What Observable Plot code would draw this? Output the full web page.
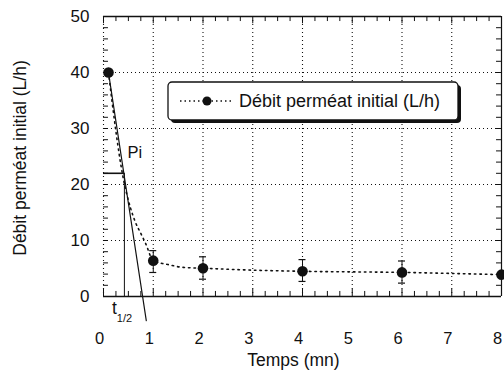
<!DOCTYPE html>
<html>
<head>
<meta charset="utf-8">
<script src="https://cdn.jsdelivr.net/npm/d3@7"></script>
<script src="https://cdn.jsdelivr.net/npm/@observablehq/plot@0.6"></script>
<style>
  html, body { margin: 0; padding: 0; background: #fff; }
  #chart { width: 504px; height: 370px; }
  svg { font-family: "Liberation Sans", Arial, sans-serif; }
</style>
</head>
<body>
<div id="chart"></div>
<script>
// Measured points with error bars
const temps = [0.1, 1, 2, 4, 6, 8];
const debit = [40, 6.4, 5.05, 4.5, 4.3, 3.9];
const errLow = [40, 4.2, 3.0, 2.6, 2.3, 3.9];
const errHigh = [40, 8.1, 7.0, 6.5, 6.25, 3.9];

// Dotted fitted curve
const curveX = [0.1, 0.4, 0.54, 0.64, 0.77, 0.85, 1, 1.3, 1.6, 2, 3, 4, 6, 8];
const curveY = [40, 21, 15.9, 13.3, 10.9, 9.4, 6.4, 5.7, 5.2, 5.05, 4.7, 4.5, 4.3, 3.9];

// Tangent line and Pi / t1/2 construction
const tangentX = [0.1, 0.86];
const tangentY = [40, -4.3];
const piLevel = 22;
const tHalf = 0.42;

const xTicks = [0, 1, 2, 3, 4, 5, 6, 7, 8];
const yTicks = [0, 10, 20, 30, 40, 50];
const xLabel = "Temps (mn)";
const yLabel = "Débit perméat initial (L/h)";
const legendLabel = "Débit perméat initial (L/h)";

const pts = temps.map((t, i) => ({t, v: debit[i], lo: errLow[i], hi: errHigh[i]}));
const curve = curveX.map((x, i) => ({x, y: curveY[i]}));
const tangent = tangentX.map((x, i) => ({x, y: tangentY[i]}));
const xMinor = d3.range(0, 8.001, 0.25);
const yMinor = d3.range(0, 50.001, 2);
const errPts = pts.filter(d => d.hi - d.lo > 0.01);

const ink = "#111";
const dots = "1,3";

const plot = Plot.plot({
  width: 504,
  height: 370,
  marginLeft: 103,
  marginRight: 3,
  marginTop: 16,
  marginBottom: 74,
  style: {fontFamily: "Liberation Sans, Arial, sans-serif", background: "white", overflow: "visible"},
  x: {type: "linear", domain: [0, 8], axis: null},
  y: {type: "linear", domain: [0, 50], axis: null},
  marks: [
    // grid
    Plot.ruleX([1, 2, 3, 4, 5, 6, 7], {stroke: ink, strokeDasharray: dots, strokeWidth: 1.1}),
    Plot.ruleY([10, 20, 30, 40], {stroke: ink, strokeDasharray: dots, strokeWidth: 1.1}),
    Plot.ruleX([0], {stroke: ink, strokeDasharray: dots, strokeWidth: 1.1}),
    // frame lines
    Plot.ruleY([0], {stroke: ink, strokeWidth: 1.4}),
    Plot.ruleY([50], {stroke: ink, strokeWidth: 1.4}),
    Plot.ruleX([8], {stroke: ink, strokeWidth: 1.2}),
    // minor ticks x (bottom, up; top, down)
    Plot.ruleX(xMinor, {y1: 0, y2: d => Number.isInteger(d) ? 1.3 : 0.9, stroke: ink, strokeWidth: 1}),
    Plot.ruleX(xMinor, {y1: 50, y2: d => Number.isInteger(d) ? 48.7 : 49.1, stroke: ink, strokeWidth: 1}),
    // minor ticks y (left, right)
    Plot.ruleY(yMinor, {x1: 0, x2: 0.1, stroke: ink, strokeWidth: 1}),
    Plot.ruleY(yMinor, {x1: 8, x2: 7.9, stroke: ink, strokeWidth: 1}),
    // construction lines
    Plot.line(tangent, {x: "x", y: "y", stroke: ink, strokeWidth: 1.2, clip: false}),
    Plot.ruleY([piLevel], {x1: 0, x2: tHalf, stroke: ink, strokeWidth: 1.6}),
    Plot.ruleX([tHalf], {y1: 0, y2: piLevel, stroke: ink, strokeWidth: 1}),
    Plot.text(["Pi"], {x: 0.48, y: 25.7, text: d => d, textAnchor: "start", fontSize: 16.5, fill: ink}),
    // fitted dotted curve
    Plot.line(curve, {x: "x", y: "y", curve: "monotone-x", stroke: ink, strokeDasharray: "1.5,4", strokeWidth: 1.6}),
    // error bars
    Plot.ruleX(errPts, {x: "t", y1: "lo", y2: "hi", stroke: ink, strokeWidth: 1}),
    // points
    Plot.dot(pts, {x: "t", y: "v", r: 5.3, fill: ink, stroke: "none"}),
    // tick labels
    Plot.text(xTicks, {x: d => d, frameAnchor: "bottom", lineAnchor: "middle", text: d => String(d), dx: -4, dy: 42, fontSize: 16.5, fill: ink}),
    Plot.text(yTicks, {y: d => d, frameAnchor: "left", textAnchor: "end", text: d => String(d), dx: -14, fontSize: 17, fill: ink}),
    Plot.text([xLabel], {frameAnchor: "bottom", lineAnchor: "middle", text: d => d, dx: -9, dy: 64, fontSize: 17.5, fill: ink})
  ]
});

document.getElementById("chart").appendChild(plot);

const svg = d3.select(plot);
const sx = plot.scale("x"), sy = plot.scale("y");

// y axis title
svg.append("text")
  .attr("transform", `translate(20,${(sy.apply(0) + sy.apply(50)) / 2 + 2}) rotate(-90)`)
  .attr("text-anchor", "middle").attr("dy", "0.35em")
  .attr("font-size", 17.5).attr("fill", ink).text(yLabel);

// error-bar caps at both ends
const capG = svg.append("g").attr("stroke", ink).attr("stroke-width", 1.2);
errPts.forEach(d => {
  [d.lo, d.hi].forEach(v => {
    capG.append("line")
      .attr("x1", sx.apply(d.t) - 3.5).attr("x2", sx.apply(d.t) + 3.5)
      .attr("y1", sy.apply(v)).attr("y2", sy.apply(v));
  });
});

// t1/2 label
const tg = svg.append("text").attr("x", sx.apply(tHalf) - 12).attr("y", sy.apply(0) + 18)
  .attr("text-anchor", "start").attr("font-size", 17.5).attr("fill", ink);
tg.append("tspan").text("t");
tg.append("tspan").attr("font-size", 11).attr("dy", 8).text("1/2");

// Legend box
const lg = svg.append("g");
lg.append("rect").attr("x", 171).attr("y", 85).attr("width", 290).attr("height", 38).attr("rx", 4).attr("fill", ink);
lg.append("rect").attr("x", 168).attr("y", 82).attr("width", 290).attr("height", 38).attr("rx", 4)
  .attr("fill", "white").attr("stroke", ink).attr("stroke-width", 1.3);
lg.append("line").attr("x1", 180).attr("x2", 232).attr("y1", 101).attr("y2", 101)
  .attr("stroke", ink).attr("stroke-width", 1.5).attr("stroke-dasharray", "1.5,3");
lg.append("circle").attr("cx", 207).attr("cy", 101).attr("r", 4.5).attr("fill", ink);
lg.append("text").attr("x", 239).attr("y", 107).attr("text-anchor", "start")
  .attr("font-size", 18).attr("fill", ink).text(legendLabel);
</script>
</body>
</html>
